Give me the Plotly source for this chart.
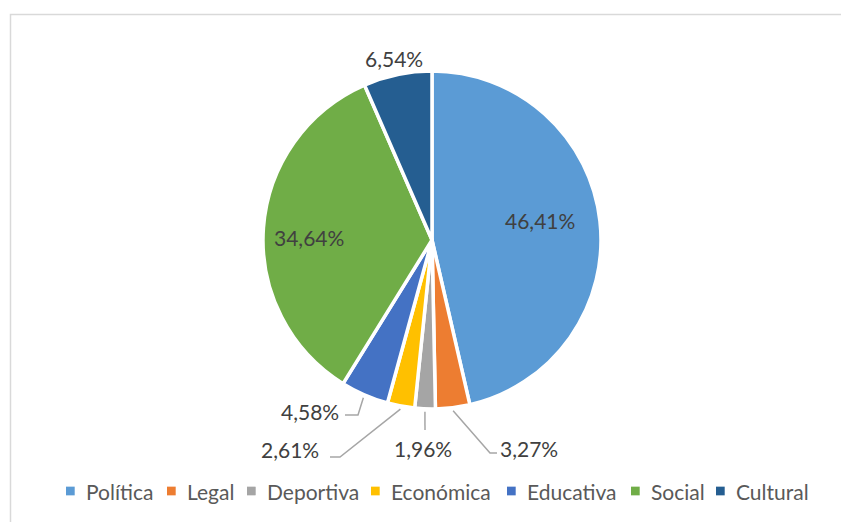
import math
import plotly.graph_objects as go

categories = ["Política", "Legal", "Deportiva", "Económica", "Educativa", "Social", "Cultural"]
values = [46.41, 3.27, 1.96, 2.61, 4.58, 34.64, 6.54]
colors = ["#5B9BD5", "#ED7D31", "#A5A5A5", "#FFC000", "#4472C4", "#70AD47", "#255E91"]
value_labels = ["46,41%", "3,27%", "1,96%", "2,61%", "4,58%", "34,64%", "6,54%"]

W, H = 841, 522
CX, CY, R = 432, 240, 169   # pie centre / radius in pixels (layout)
FONT = "Lato"

def px(x):
    return x / W

def py(y):
    return 1 - y / H

fig = go.Figure()
fig.add_trace(go.Pie(
    labels=categories,
    values=values,
    sort=False,
    direction="clockwise",
    rotation=0,
    textinfo="none",
    marker=dict(colors=colors, line=dict(color="white", width=3.5)),
    domain=dict(x=[px(CX - R), px(CX + R)], y=[py(CY + R), py(CY - R)]),
    showlegend=False,
))

# label placement (pixel positions of label centres) and leader-line elbows
label_pos = {
    "Política": (540, 220, None),
    "Social": (309, 237, None),
    "Cultural": (394, 59, None),
    "Legal": (529, 448, [(490, 453), (497, 453)]),
    "Deportiva": (423, 448, [(425, 430)]),
    "Económica": (290, 449, [(340, 457), (330, 457)]),
    "Educativa": (310, 411, [(358, 415), (345, 415)]),
}

total = sum(values)
cum = 0.0
shapes = []
annotations = []
for cat, v, lab in zip(categories, values, value_labels):
    mid = (cum + v / 2) / total * 2 * math.pi
    cum += v
    lx, ly, elbows = label_pos[cat]
    annotations.append(dict(
        x=px(lx), y=py(ly), xref="paper", yref="paper",
        text=lab, showarrow=False, xanchor="center", yanchor="middle",
        font=dict(family=FONT, size=21, color="#404040"),
    ))
    if elbows:
        sx = CX + (R + 3) * math.sin(mid)
        sy = CY - (R + 3) * math.cos(mid)
        pts = [(sx, sy)] + elbows
        path = "M " + " L ".join(f"{px(x):.5f},{py(y):.5f}" for x, y in pts)
        shapes.append(dict(type="path", path=path, xref="paper", yref="paper",
                           line=dict(color="#A6A6A6", width=1.5)))

# legend (square swatch + label), laid out along the bottom row
legend_x = [66, 167, 247, 371, 507, 631, 716]   # swatch left edges in px
LEG_Y = 491
for cat, col, x0 in zip(categories, colors, legend_x):
    shapes.append(dict(type="rect", xref="paper", yref="paper",
                       x0=px(x0), x1=px(x0 + 8.7), y0=py(LEG_Y + 4.35), y1=py(LEG_Y - 4.35),
                       fillcolor=col, line=dict(width=0)))
    annotations.append(dict(
        x=px(x0 + 18.3), y=py(LEG_Y + 0.5), xref="paper", yref="paper",
        text=cat, showarrow=False, xanchor="left", yanchor="middle",
        font=dict(family=FONT, size=21, color="#595959"),
    ))

# chart-area border
shapes.append(dict(type="rect", xref="paper", yref="paper",
                   x0=px(10.5), x1=1.05, y0=-0.05, y1=py(14.5),
                   line=dict(color="#D9D9D9", width=1.5), layer="below"))

fig.update_layout(
    width=W, height=H,
    margin=dict(l=0, r=0, t=0, b=0),
    paper_bgcolor="white",
    plot_bgcolor="white",
    shapes=shapes,
    annotations=annotations,
    showlegend=False,
)

fig.write_html(
    "out.html",
    config={"displayModeBar": False},
    post_script="document.body.style.margin='0';document.body.style.overflow='hidden';",
)
